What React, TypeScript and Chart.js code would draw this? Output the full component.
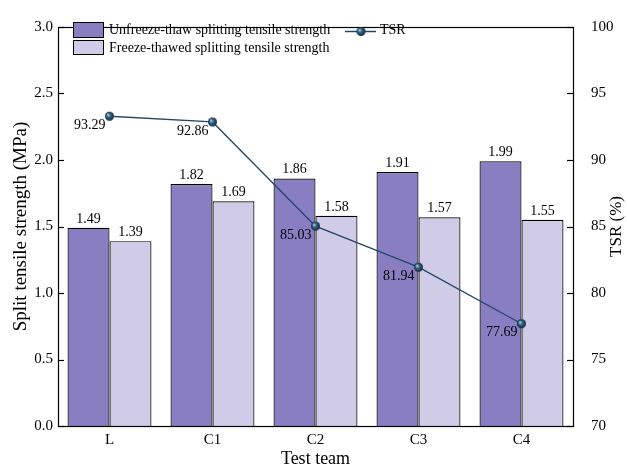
import React, { useEffect, useRef } from 'react';
import { Chart, registerables } from 'chart.js';

Chart.register(...registerables);

const categories = ['L', 'C1', 'C2', 'C3', 'C4'];
const unfreezeValues = [1.49, 1.82, 1.86, 1.91, 1.99];
const freezeValues = [1.39, 1.69, 1.58, 1.57, 1.55];
const tsrValues = [93.29, 92.86, 85.03, 81.94, 77.69];
const leftAxisRange = [0, 3, 0.5];
const rightAxisRange = [70, 100, 5];

const seriesNames = [
  'Unfreeze-thaw splitting tensile strength',
  'Freeze-thawed splitting tensile strength',
  'TSR',
];
const axisTitles = ['Split tensile strength (MPa)', 'TSR (%)', 'Test team'];

const FONT = "'Liberation Serif', 'Times New Roman', serif";
const DARK = '#8a7ec2';
const LIGHT = '#d0cce8';
const LINE = '#1f4868';

function makeSphere(r: number): HTMLCanvasElement {
  const c = document.createElement('canvas');
  const s = r * 2 + 2;
  c.width = s;
  c.height = s;
  const ctx = c.getContext('2d')!;
  const cx = s / 2;
  const g = ctx.createRadialGradient(cx - r * 0.35, cx - r * 0.35, 0.3, cx, cx, r);
  g.addColorStop(0, '#b9d3e4');
  g.addColorStop(0.35, '#3f6f8f');
  g.addColorStop(1, '#0c2538');
  ctx.fillStyle = g;
  ctx.beginPath();
  ctx.arc(cx, cx, r, 0, Math.PI * 2);
  ctx.fill();
  return c;
}

export default function App() {
  const ref = useRef<HTMLCanvasElement | null>(null);

  useEffect(() => {
    document.body.style.margin = '0';
    const canvas = ref.current!;
    const sphere = makeSphere(4.5);

    const decor = {
      id: 'decor',
      afterDatasetsDraw(chart: any) {
        const ctx = chart.ctx;
        ctx.save();
        ctx.fillStyle = '#000';
        ctx.font = `14px ${FONT}`;
        ctx.textAlign = 'center';
        ctx.textBaseline = 'bottom';
        [0, 1].forEach((di) => {
          const meta = chart.getDatasetMeta(di);
          const vals = di === 0 ? unfreezeValues : freezeValues;
          meta.data.forEach((el: any, i: number) => {
            ctx.fillText(vals[i].toFixed(2), el.x, el.y - 2);
          });
        });
        const lm = chart.getDatasetMeta(2);
        ctx.textAlign = 'right';
        ctx.textBaseline = 'middle';
        lm.data.forEach((el: any, i: number) => {
          ctx.fillText(tsrValues[i].toFixed(2), el.x - 4, el.y + 9);
        });
        ctx.restore();
      },
      afterDraw(chart: any) {
        const ctx = chart.ctx;
        const a = chart.chartArea;
        ctx.save();
        ctx.strokeStyle = '#000';
        ctx.lineWidth = 1.2;
        ctx.strokeRect(Math.round(a.left) + 0.5, Math.round(a.top) + 0.5, Math.round(a.right - a.left), Math.round(a.bottom - a.top));
        // inward ticks
        const ys = chart.scales.y;
        const y1 = chart.scales.y1;
        ys.ticks.forEach((t: any) => {
          const py = Math.round(ys.getPixelForValue(t.value)) + 0.5;
          ctx.beginPath();
          ctx.moveTo(a.left, py);
          ctx.lineTo(a.left + 6, py);
          ctx.stroke();
        });
        y1.ticks.forEach((t: any) => {
          const py = Math.round(y1.getPixelForValue(t.value)) + 0.5;
          ctx.beginPath();
          ctx.moveTo(a.right, py);
          ctx.lineTo(a.right - 6, py);
          ctx.stroke();
        });
        // axis titles
        ctx.fillStyle = '#000';
        ctx.textAlign = 'center';
        ctx.textBaseline = 'middle';
        const cy = (a.top + a.bottom) / 2;
        ctx.font = `19px ${FONT}`;
        ctx.save();
        ctx.translate(21, cy);
        ctx.rotate(-Math.PI / 2);
        ctx.fillText(axisTitles[0], 0, 0);
        ctx.restore();
        ctx.font = `17px ${FONT}`;
        ctx.save();
        ctx.translate(617, cy);
        ctx.rotate(-Math.PI / 2);
        ctx.fillText(axisTitles[1], 0, 0);
        ctx.restore();
        ctx.font = `18px ${FONT}`;
        ctx.fillText(axisTitles[2], (a.left + a.right) / 2, 459);
        // legend
        ctx.lineWidth = 1;
        ctx.fillStyle = DARK;
        ctx.fillRect(73, 22, 30, 15);
        ctx.strokeRect(73.5, 22.5, 30, 15);
        ctx.fillStyle = LIGHT;
        ctx.fillRect(73, 40, 30, 14);
        ctx.strokeRect(73.5, 40.5, 30, 14);
        ctx.fillStyle = '#000';
        ctx.font = `14px ${FONT}`;
        ctx.textAlign = 'left';
        ctx.fillText(seriesNames[0], 109, 30);
        ctx.fillText(seriesNames[1], 109, 48);
        ctx.strokeStyle = LINE;
        ctx.lineWidth = 1.5;
        ctx.beginPath();
        ctx.moveTo(345, 31.5);
        ctx.lineTo(376, 31.5);
        ctx.stroke();
        ctx.drawImage(sphere, 361 - sphere.width / 2, 31.5 - sphere.height / 2);
        ctx.fillText(seriesNames[2], 380, 30);
        ctx.restore();
      },
    };

    const chart = new Chart(canvas, {
      data: {
        labels: categories,
        datasets: [
          {
            type: 'bar',
            label: seriesNames[0],
            data: unfreezeValues,
            backgroundColor: DARK,
            borderColor: '#000',
            borderWidth: 1.2,
            yAxisID: 'y',
            order: 2,
            categoryPercentage: 0.815,
            barPercentage: 1.0,
          },
          {
            type: 'bar',
            label: seriesNames[1],
            data: freezeValues,
            backgroundColor: LIGHT,
            borderColor: '#000',
            borderWidth: 1.2,
            yAxisID: 'y',
            order: 2,
            categoryPercentage: 0.815,
            barPercentage: 1.0,
          },
          {
            type: 'line',
            label: seriesNames[2],
            data: tsrValues,
            borderColor: LINE,
            borderWidth: 1.3,
            pointStyle: sphere as any,
            pointRadius: 4.5,
            yAxisID: 'y1',
            order: 0,
          },
        ] as any,
      },
      options: {
        responsive: false,
        animation: false,
        devicePixelRatio: 1,
        layout: { padding: { top: 16, left: 0, right: 0, bottom: 0 } },
        plugins: { legend: { display: false }, tooltip: { enabled: false } },
        scales: {
          x: {
            grid: { display: false, drawTicks: false },
            border: { display: false },
            ticks: { color: '#000', font: { family: FONT, size: 15 }, padding: 5 },
            afterFit: (s: any) => { s.height = 42; },
          },
          y: {
            position: 'left',
            min: leftAxisRange[0],
            max: leftAxisRange[1],
            grid: { display: false, drawTicks: false },
            border: { display: false },
            ticks: {
              stepSize: leftAxisRange[2],
              color: '#000',
              font: { family: FONT, size: 15 },
              padding: 5,
              callback: (v: any) => Number(v).toFixed(1),
            },
            afterFit: (s: any) => { s.width = 58; },
          },
          y1: {
            position: 'right',
            min: rightAxisRange[0],
            max: rightAxisRange[1],
            grid: { display: false, drawTicks: false },
            border: { display: false },
            ticks: {
              stepSize: rightAxisRange[2],
              color: '#000',
              font: { family: FONT, size: 15 },
              padding: 18,
            },
            afterFit: (s: any) => { s.width = 54; },
          },
        },
      } as any,
      plugins: [decor],
    });
    return () => chart.destroy();
  }, []);

  return <canvas ref={ref} width={627} height={468} style={{ display: 'block' }} />;
}
